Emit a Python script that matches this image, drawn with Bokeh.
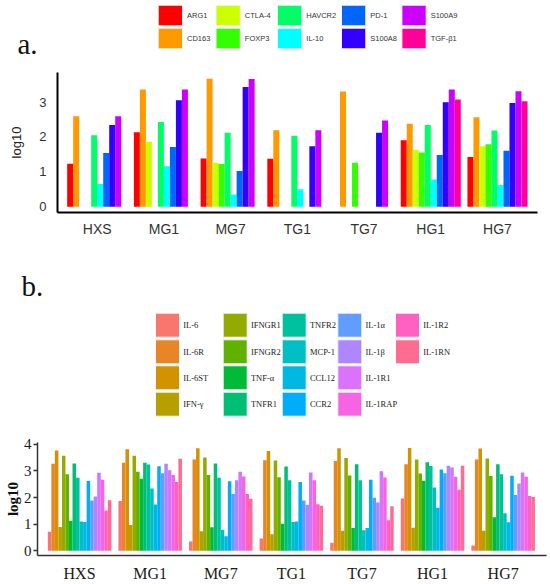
from bokeh.plotting import figure
from bokeh.models import Range1d, FixedTicker, ColumnDataSource
from bokeh.core.properties import value
from bokeh.embed import file_html
from bokeh.resources import INLINE

# ---------------- data ----------------
groups = ["HXS", "MG1", "MG7", "TG1", "TG7", "HG1", "HG7"]

genes_a = ["ARG1", "CD163", "CTLA-4", "FOXP3", "HAVCR2",
           "IL-10", "PD-1", "S100A8", "S100A9", "TGF-β1"]
a_HXS = [1.23, 2.59, 0.00, 0.00, 2.05, 0.65, 1.54, 2.34, 2.59, 0.00]
a_MG1 = [2.13, 3.36, 1.86, 0.00, 2.43, 1.16, 1.71, 3.05, 3.36, 0.00]
a_MG7 = [1.38, 3.67, 1.26, 1.22, 2.12, 0.35, 1.02, 3.43, 3.66, 0.00]
a_TG1 = [1.37, 2.19, 0.00, 0.00, 2.03, 0.50, 0.00, 1.73, 2.19, 0.00]
a_TG7 = [0.00, 3.30, 0.00, 1.26, 0.00, 0.00, 0.00, 2.12, 2.47, 0.00]
a_HG1 = [1.90, 2.38, 1.63, 1.55, 2.34, 0.78, 1.48, 2.99, 3.36, 3.07]
a_HG7 = [1.42, 2.56, 1.73, 1.79, 2.18, 0.62, 1.60, 2.97, 3.31, 3.02]

genes_b = ["IL-6", "IL-6R", "IL-6ST", "IFN-γ", "IFNGR1", "IFNGR2", "TNF-α",
           "TNFR1", "TNFR2", "MCP-1", "CCL12", "CCR2", "IL-1α", "IL-1β",
           "IL-1R1", "IL-1RAP", "IL-1R2", "IL-1RN"]
b_HXS = [0.71, 3.27, 3.77, 0.89, 3.57, 2.88, 1.13, 3.28, 2.74, 1.10, 1.08, 2.62, 1.89, 2.04, 2.93, 2.67, 1.51, 1.90]
b_MG1 = [1.87, 3.31, 3.82, 0.97, 3.57, 2.97, 2.71, 3.31, 3.24, 2.34, 1.74, 3.18, 2.91, 3.27, 3.03, 2.85, 2.58, 3.46]
b_MG7 = [0.35, 3.43, 3.85, 0.73, 3.51, 2.85, 0.88, 3.28, 2.74, 0.79, 0.54, 2.61, 2.13, 2.65, 2.97, 2.79, 2.13, 1.95]
b_TG1 = [0.46, 3.40, 3.75, 0.62, 3.39, 2.76, 1.01, 3.17, 2.65, 1.08, 1.10, 2.58, 1.89, 1.73, 2.94, 2.65, 1.75, 1.69]
b_TG7 = [0.30, 3.37, 3.85, 0.75, 3.49, 2.83, 0.85, 3.25, 2.65, 0.77, 0.85, 2.67, 1.99, 1.81, 2.99, 2.75, 1.15, 1.67]
b_HG1 = [1.96, 3.25, 3.86, 0.86, 3.43, 2.90, 2.63, 3.33, 3.19, 2.38, 1.62, 3.05, 2.91, 3.20, 3.13, 2.78, 2.29, 3.20]
b_HG7 = [0.20, 3.43, 3.84, 0.75, 3.47, 2.81, 1.26, 3.25, 2.88, 1.41, 1.07, 2.82, 2.10, 2.53, 2.94, 2.78, 2.06, 2.02]

ticks_a = [0, 1, 2, 3]
ticks_b = [0, 1, 2, 3, 4]

# ---------------- styles ----------------
colors_a = ["#FF0000", "#FF9900", "#CCFF00", "#33FF00", "#00FF66",
            "#00FFFF", "#0066FF", "#3300FF", "#CC00FF", "#FF0099"]
colors_b = ["#F8766D", "#E88526", "#D39200", "#B79F00", "#93AA00", "#5EB300",
            "#00BA38", "#00BF74", "#00C19F", "#00BFC4", "#00B9E3", "#00ADFA",
            "#619CFF", "#AE87FF", "#DB72FB", "#F564E3", "#FF61C3", "#FF6C91"]

SANS = "Liberation Sans"
SERIF = "Liberation Serif"
W = 550

vals_a = [a_HXS, a_MG1, a_MG7, a_TG1, a_TG7, a_HG1, a_HG7]
vals_b = [b_HXS, b_MG1, b_MG7, b_TG1, b_TG7, b_HG1, b_HG7]


def legend_fig(H, names, colors, nrows, col_x, row_y, bw, bh, gap, font,
               fsize, fcolor, tag, tag_x, tag_y):
    p = figure(width=W, height=H, x_range=Range1d(0, W), y_range=Range1d(H, 0),
               x_axis_type=None, y_axis_type=None, toolbar_location=None,
               output_backend="svg", min_border=0)
    p.outline_line_color = None
    L, R, T, B, TX, TY = [], [], [], [], [], []
    for i, _ in enumerate(names):
        c, r = divmod(i, nrows)
        L.append(col_x[c]); R.append(col_x[c] + bw)
        T.append(row_y[r]); B.append(row_y[r] + bh)
        TX.append(col_x[c] + bw + gap); TY.append(row_y[r] + bh / 2)
    p.quad(left=L, right=R, top=T, bottom=B, fill_color=colors,
           line_color="#f4f4f4", line_width=1)
    p.text(x=TX, y=TY, text=names, text_baseline="middle", text_align="left",
           text_font=value(font), text_font_size=fsize, text_color=fcolor)
    p.text(x=[tag_x], y=[tag_y], text=[tag], text_baseline="alphabetic",
           text_align="left", text_font=value(SERIF), text_font_size="29px",
           text_color="#111111")
    return p


def bars(p, vals, colors, bw):
    n = len(colors)
    for j in range(n):
        xs, ts = [], []
        for g in range(len(groups)):
            v = vals[g][j]
            if v > 0:
                xs.append(g + (j - (n - 1) / 2) * bw)
                ts.append(v)
        src = ColumnDataSource(dict(x=xs, top=ts))
        p.vbar(x="x", top="top", bottom=0, width=bw, source=src,
               fill_color=colors[j], line_color=None)


# ---------------- panel a ----------------
la = legend_fig(64, genes_a, colors_a, 2,
                [157.7, 215.5, 277.0, 341.0, 401.4], [4.7, 27.7], 24.3, 20.6, 4.5,
                SANS, "7.5px", "#333333", "a.", 17, 43)

pa = figure(width=W, height=175, x_range=Range1d(-0.595, 6.60),
            y_range=Range1d(-0.168, 3.846), toolbar_location=None,
            output_backend="svg", min_border_left=57, min_border_right=13,
            min_border_top=8, min_border_bottom=24)
pa.outline_line_color = None
pa.grid.visible = False
bars(pa, vals_a, colors_a, 0.09)
pa.xaxis.ticker = FixedTicker(ticks=list(range(len(groups))))
pa.xaxis.major_label_overrides = {i: g for i, g in enumerate(groups)}
pa.yaxis.ticker = FixedTicker(ticks=ticks_a)
for ax in (pa.xaxis, pa.yaxis):
    ax.axis_line_color = "black"
    ax.axis_line_width = 2
    ax.major_tick_line_color = None
    ax.minor_tick_line_color = None
    ax.major_label_text_font = SANS
    ax.major_label_text_color = "#333333"
pa.xaxis.major_label_text_font_size = "14px"
pa.yaxis.major_label_text_font_size = "13px"
pa.xaxis.major_label_standoff = 2
pa.yaxis.major_label_standoff = 5
pa.yaxis.axis_label = "log10"
pa.yaxis.axis_label_text_font = SANS
pa.yaxis.axis_label_text_font_size = "13px"
pa.yaxis.axis_label_text_font_style = "normal"
pa.yaxis.axis_label_text_color = "#222222"
pa.yaxis.axis_label_standoff = 12

# ---------------- panel b ----------------
lb = legend_fig(197, genes_b, colors_b, 4,
                [155.0, 222.7, 281.7, 337.3, 395.0], [73.7, 100.3, 126.3, 152.7], 24, 24, 3.7,
                SERIF, "8.5px", "#222222", "b.", 21, 46)

pb = figure(width=W, height=148, x_range=Range1d(-0.596, 6.614),
            y_range=Range1d(-0.18, 4.07), toolbar_location=None,
            output_backend="svg", min_border_left=37, min_border_right=4,
            min_border_top=6, min_border_bottom=24)
pb.outline_line_color = None
pb.grid.visible = False
bars(pb, vals_b, colors_b, 0.05)
pb.xaxis.ticker = FixedTicker(ticks=list(range(len(groups))))
pb.xaxis.major_label_overrides = {i: g for i, g in enumerate(groups)}
pb.yaxis.ticker = FixedTicker(ticks=ticks_b)
for ax in (pb.xaxis, pb.yaxis):
    ax.axis_line_color = "#333333"
    ax.axis_line_width = 1.5
    ax.minor_tick_line_color = None
    ax.major_label_text_font = SERIF
    ax.major_label_text_color = "#1a1a1a"
pb.xaxis.major_tick_line_color = None
pb.xaxis.major_label_text_font_size = "16px"
pb.xaxis.major_label_standoff = 3
pb.yaxis.major_label_text_font_size = "15px"
pb.yaxis.major_tick_line_color = "#333333"
pb.yaxis.major_tick_line_width = 1.5
pb.yaxis.major_tick_out = 4
pb.yaxis.major_tick_in = 0
pb.yaxis.major_label_standoff = 2
pb.yaxis.axis_label = "log10"
pb.yaxis.axis_label_text_font = SERIF
pb.yaxis.axis_label_text_font_size = "15px"
pb.yaxis.axis_label_text_font_style = "bold"
pb.yaxis.axis_label_text_color = "#111111"
pb.yaxis.axis_label_standoff = 0

# separate roots, stacked top to bottom (avoids frame alignment between panels)
open("out.html", "w").write(file_html([la, pa, lb, pb], INLINE))
